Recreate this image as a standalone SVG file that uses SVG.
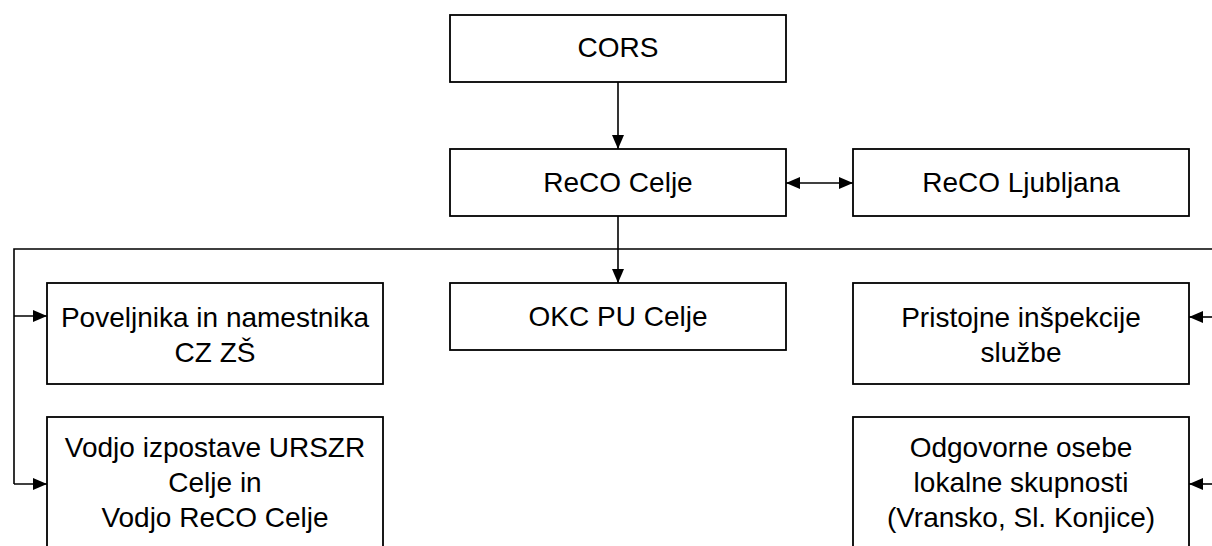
<svg xmlns="http://www.w3.org/2000/svg" width="1212" height="546" viewBox="0 0 1212 546">
<style>
.box{fill:#fff;stroke:#000;stroke-width:1.8}
.lbl{font-family:"Liberation Sans",Arial,sans-serif;font-size:28px;fill:#000;text-anchor:middle}
.con{fill:none;stroke:#000;stroke-width:1.6}
</style>
<defs>
<marker id="ah" viewBox="0 0 14 12" refX="14" refY="6" markerWidth="14" markerHeight="12" markerUnits="userSpaceOnUse" orient="auto-start-reverse">
<path d="M0,0 L14,6 L0,12 Z" fill="#000"/>
</marker>
</defs>
<rect width="1212" height="546" fill="#fff"/>
<g id="connectors">
<line class="con" x1="618" y1="82" x2="618" y2="149" marker-end="url(#ah)"/>
<line class="con" x1="618" y1="216" x2="618" y2="283" marker-end="url(#ah)"/>
<line class="con" x1="786" y1="183" x2="853" y2="183" marker-start="url(#ah)" marker-end="url(#ah)"/>
<polyline class="con" points="1213,249 14,249 14,484"/>
<line class="con" x1="14" y1="316" x2="47" y2="316" marker-end="url(#ah)"/>
<line class="con" x1="14" y1="484" x2="47" y2="484" marker-end="url(#ah)"/>
<line class="con" x1="1213" y1="317" x2="1189" y2="317" marker-end="url(#ah)"/>
<line class="con" x1="1213" y1="484" x2="1189" y2="484" marker-end="url(#ah)"/>
</g>
<g id="cors">
<rect class="box" x="450" y="15" width="336" height="67"/>
<text class="lbl" x="618" y="57">CORS</text>
</g>
<g id="reco-celje">
<rect class="box" x="450" y="149" width="336" height="67"/>
<text class="lbl" x="618" y="192">ReCO Celje</text>
</g>
<g id="reco-ljubljana">
<rect class="box" x="853" y="149" width="336" height="67"/>
<text class="lbl" x="1021" y="192">ReCO Ljubljana</text>
</g>
<g id="poveljnika">
<rect class="box" x="47" y="283" width="336" height="101"/>
<text class="lbl" x="215" y="327">Poveljnika in namestnika</text>
<text class="lbl" x="215" y="362">CZ ZŠ</text>
</g>
<g id="okc">
<rect class="box" x="450" y="283" width="336" height="67"/>
<text class="lbl" x="618" y="326">OKC PU Celje</text>
</g>
<g id="pristojne">
<rect class="box" x="853" y="283" width="336" height="101"/>
<text class="lbl" x="1021" y="327">Pristojne inšpekcije</text>
<text class="lbl" x="1021" y="362">službe</text>
</g>
<g id="vodjo">
<rect class="box" x="47" y="417" width="336" height="140"/>
<text class="lbl" x="215" y="457">Vodjo izpostave URSZR</text>
<text class="lbl" x="215" y="492">Celje in</text>
<text class="lbl" x="215" y="527">Vodjo ReCO Celje</text>
</g>
<g id="odgovorne">
<rect class="box" x="853" y="417" width="336" height="140"/>
<text class="lbl" x="1021" y="457">Odgovorne osebe</text>
<text class="lbl" x="1021" y="492">lokalne skupnosti</text>
<text class="lbl" x="1021" y="527">(Vransko, Sl. Konjice)</text>
</g>
</svg>
